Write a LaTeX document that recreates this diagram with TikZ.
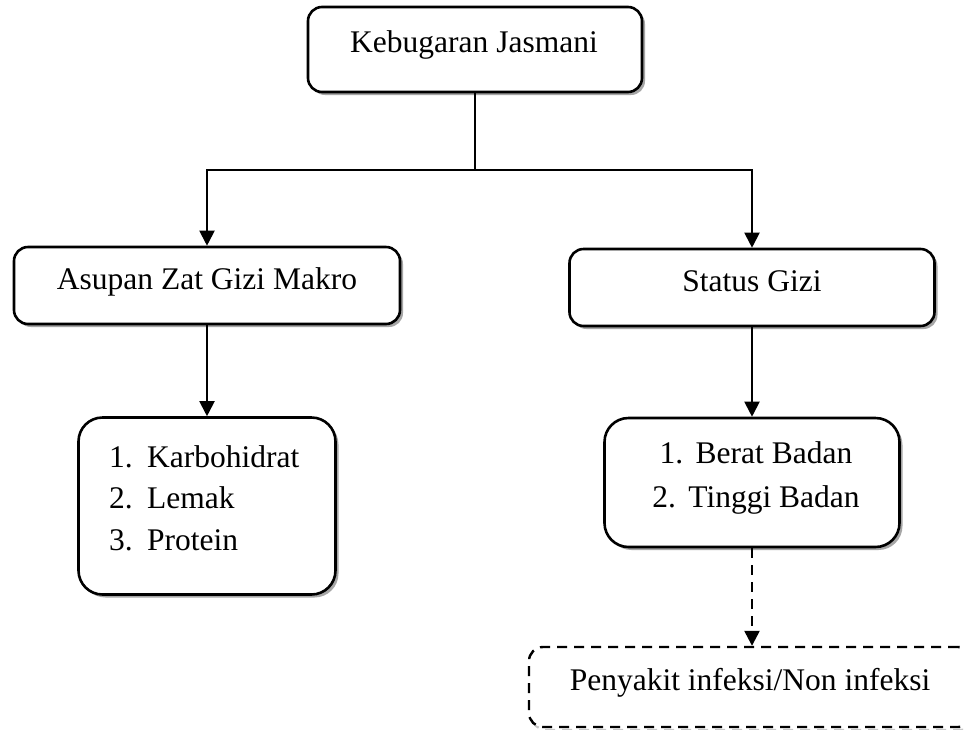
\documentclass[tikz,border=0pt]{standalone}
\usepackage{fontspec}
\setmainfont{Liberation Serif}
\usetikzlibrary{shadows,arrows.meta}
\begin{document}
\begin{tikzpicture}[x=1pt,y=-1pt,
  box/.style={draw,line width=2.6pt,rounded corners=14pt,fill=white,inner sep=0pt,
    drop shadow={shadow xshift=3pt,shadow yshift=-3pt,fill=black!35,opacity=1}},
  listbox/.style={box,rounded corners=24pt},
  dbox/.style={draw,line width=2.4pt,rounded corners=14pt,inner sep=0pt,dash pattern=on 10pt off 7pt},
  txt/.style={font=\fontsize{31.5}{36}\selectfont,inner sep=0pt},
  conn/.style={line width=2pt},
  arr/.style={conn,-{Triangle[width=15pt,length=15pt]}},
  darr/.style={arr,line width=2.4pt,dash pattern=on 10pt off 7pt}]
\useasboundingbox (0,0) rectangle (964,729);
\fill[white] (0,0) rectangle (964,729);
% boxes
\node[box,minimum width=334pt,minimum height=85pt] (top) at (475,49.5) {};
\node[txt,anchor=base] (ttop) at (474,52) {Kebugaran Jasmani};
\node[box,minimum width=386pt,minimum height=77pt] (asupan) at (207,285.5) {};
\node[txt,anchor=base] (tasupan) at (207,289) {Asupan Zat Gizi Makro};
\node[box,minimum width=365pt,minimum height=77pt] (status) at (752,287.5) {};
\node[txt,anchor=base] (tstatus) at (752,291) {Status Gizi};
\node[listbox,minimum width=257pt,minimum height=177pt] (list1) at (207,506) {};
\node[txt,anchor=base west] (k1) at (109,467) {\makebox[38pt][l]{1.}Karbohidrat};
\node[txt,anchor=base west] (k2) at (109,508) {\makebox[38pt][l]{2.}Lemak};
\node[txt,anchor=base west] (k3) at (109,550) {\makebox[38pt][l]{3.}Protein};
\node[listbox,minimum width=295pt,minimum height=129pt] (list2) at (752,482.5) {};
\node[txt,anchor=base] (b1) at (756,463) {\makebox[36pt][l]{1.}Berat Badan};
\node[txt,anchor=base] (b2) at (756,507) {\makebox[36pt][l]{2.}Tinggi Badan};
\node[dbox,draw=black!22,minimum width=443pt,minimum height=80pt] (penyshadow) at (753.5,690) {};
\node[dbox,fill=white,minimum width=443pt,minimum height=80pt] (peny) at (750.5,687) {};
\node[txt,anchor=base] (tpeny) at (750,690) {Penyakit infeksi/Non infeksi};
% connectors
\coordinate (j) at (top.south |- {(0,170)});
\draw[conn] (top.south) -- (j);
\draw[arr] (j) -| (asupan.north);
\draw[arr] (j) -| (status.north);
\draw[arr] (asupan.south) -- (list1.north);
\draw[arr] (status.south) -- (list2.north);
\draw[darr] (list2.south) -- (list2.south |- peny.north);
\end{tikzpicture}
\end{document}
